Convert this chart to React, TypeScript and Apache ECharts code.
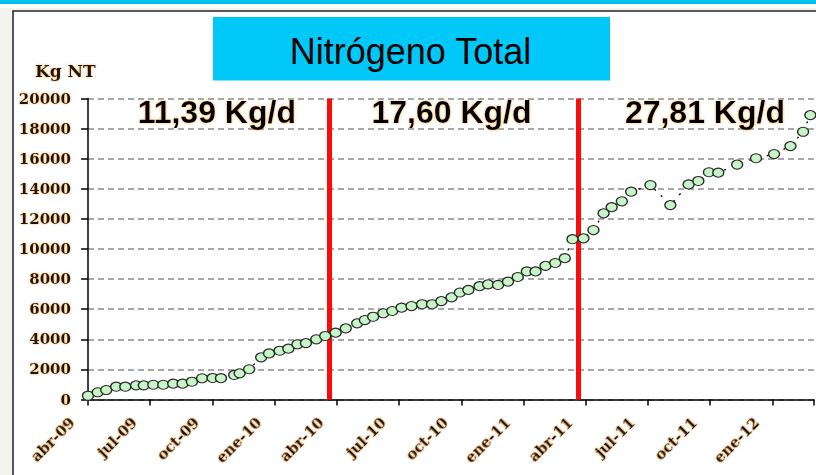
import React, { useEffect, useRef } from "react";
import * as echarts from "echarts";

// Month index measured from abr-09 (0 = April 2009)
const monthIndex: number[] = [
  0, 0.47, 0.88, 1.36, 1.8, 2.32, 2.69, 3.15, 3.63, 4.11, 4.56, 5.01, 5.5, 6.01, 6.41,
  7.05, 7.31, 7.77, 8.35, 8.73, 9.24, 9.66, 10.1, 10.51, 11.01, 11.44, 11.94, 12.43,
  12.98, 13.35, 13.75, 14.24, 14.67, 15.12, 15.6, 16.11, 16.59, 17.04, 17.53, 17.93,
  18.34, 18.88, 19.29, 19.77, 20.25, 20.72, 21.16, 21.58, 22.06, 22.53, 22.99, 23.36,
  23.89, 24.37, 24.86, 25.25, 25.74, 26.19, 27.12, 28.08, 28.96, 29.43, 29.94, 30.39,
  31.3, 32.21, 33.08, 33.87, 34.48, 34.83,
];

// Accumulated nitrogen (Kg NT)
const kgNT: number[] = [
  250, 480, 630, 850, 850, 940, 940, 980, 980, 1050, 1050, 1180, 1410, 1430, 1420,
  1630, 1740, 2010, 2800, 3060, 3240, 3380, 3670, 3750, 4000, 4220, 4440, 4730,
  5060, 5280, 5500, 5730, 5880, 6100, 6210, 6330, 6330, 6540, 6790, 7110,
  7280, 7530, 7650, 7610, 7830, 8140, 8510, 8510, 8880, 9070, 9390, 10650,
  10710, 11260, 12370, 12780, 13170, 13810, 14250, 12920, 14290, 14520, 15100, 15070,
  15610, 16030, 16310, 16840, 17790, 18900,
];

const xTickLabels: string[] = [
  "abr-09", "jul-09", "oct-09", "ene-10", "abr-10", "jul-10",
  "oct-10", "ene-11", "abr-11", "jul-11", "oct-11", "ene-12",
];

const changeMonths: number[] = [11.65, 23.63];
const rateLabels: string[] = ["11,39 Kg/d", "17,60 Kg/d", "27,81 Kg/d"];
const rateLabelMonths: number[] = [6.2, 17.5, 29.7];

const titleText = "Nitrógeno Total";
const yAxisTitle = "Kg NT";

const serifBold = "'DejaVu Serif', 'Liberation Serif', serif";
const sans = "'Liberation Sans', Arial, sans-serif";

export default function App() {
  const ref = useRef<HTMLDivElement>(null);

  useEffect(() => {
    if (!ref.current) return;
    const chart = echarts.init(ref.current, undefined, { renderer: "svg" });

    const gridLeft = 88;
    const gridRight = 1;
    const xMax = 35;
    const pxPerMonth = (816 - gridLeft - gridRight) / xMax;

    const rateTexts = rateLabels.map((t, i) => ({
      type: "text",
      z: 100,
      x: gridLeft + rateLabelMonths[i] * pxPerMonth,
      y: 112,
      style: {
        text: t,
        fill: "#000",
        font: `bold 32px ${sans}`,
        align: "center",
        verticalAlign: "middle",
        textShadowColor: "rgba(240,170,60,0.8)",
        textShadowBlur: 3,
      },
    }));

    chart.setOption({
      animation: false,
      backgroundColor: "transparent",
      grid: { left: gridLeft, right: gridRight, top: 98.5, bottom: 75.5 },
      graphic: [
        { type: "rect", z: -10, shape: { x: 0, y: 0, width: 816, height: 4 }, style: { fill: "#00c0f0" } },
        { type: "rect", z: -10, shape: { x: 0, y: 4, width: 816, height: 4 }, style: { fill: "#ffffff" } },
        {
          type: "rect",
          z: -5,
          shape: { x: 13, y: 11, width: 900, height: 500 },
          style: { fill: "#ffffff", stroke: "#222", lineWidth: 1.5 },
        },
        {
          type: "rect",
          z: 50,
          shape: { x: 213, y: 17, width: 397, height: 63.5 },
          style: { fill: "#00c8f8" },
        },
        {
          type: "text",
          z: 100,
          x: 410.5,
          y: 51,
          style: {
            text: titleText,
            fill: "#000",
            font: `36px ${sans}`,
            align: "center",
            verticalAlign: "middle",
          },
        },
        {
          type: "text",
          z: 100,
          x: 35,
          y: 71,
          style: {
            text: yAxisTitle,
            fill: "#1a1208",
            font: `bold 17px ${serifBold}`,
            align: "left",
            verticalAlign: "middle",
            textShadowColor: "rgba(240,150,50,0.8)",
            textShadowBlur: 2,
          },
        },
        ...rateTexts,
      ],
      xAxis: {
        type: "value",
        min: 0,
        max: xMax,
        interval: 3,
        splitLine: { show: false },
        axisLine: { show: true, lineStyle: { color: "#000", width: 1.5 } },
        axisTick: { show: true, length: 6, lineStyle: { color: "#000", width: 1.5 } },
        axisLabel: {
          rotate: 45,
          margin: 5,
          padding: [0, 22, 0, 0],
          color: "#1a1208",
          fontFamily: serifBold,
          fontWeight: "bold",
          fontSize: 15,
          textShadowColor: "rgba(240,150,50,0.8)",
          textShadowBlur: 2,
          formatter: (v: number) => {
            const k = Math.round(v / 3);
            return Math.abs(v - k * 3) < 1e-6 && xTickLabels[k] ? xTickLabels[k] : "";
          },
        },
      },
      yAxis: {
        type: "value",
        min: 0,
        max: 20000,
        interval: 2000,
        axisLine: { show: true, lineStyle: { color: "#000", width: 1.5 } },
        axisTick: { show: true, length: 7, lineStyle: { color: "#000", width: 1.5 } },
        axisLabel: {
          margin: 17,
          color: "#1a1208",
          fontFamily: serifBold,
          fontWeight: "bold",
          fontSize: 15,
          textShadowColor: "rgba(240,150,50,0.8)",
          textShadowBlur: 2,
          formatter: (v: number) => String(v),
        },
        splitLine: {
          show: true,
          lineStyle: { color: "#8c8c8c", width: 1.5, type: [6, 4] },
        },
      },
      series: [
        {
          type: "line",
          data: monthIndex.map((m, i) => [m, kgNT[i]]),
          symbol: "circle",
          symbolSize: [11, 9],
          lineStyle: { color: "#000", width: 1.3, type: [2, 7] },
          itemStyle: { color: "#c8f5c8", borderColor: "#2a2a2a", borderWidth: 1.2 },
          z: 5,
          markLine: {
            silent: true,
            symbol: "none",
            label: { show: false },
            lineStyle: { color: "#ff0a0a", width: 5, type: "solid" },
            data: changeMonths.map((m) => ({ xAxis: m })),
          },
        },
      ],
    });

    return () => chart.dispose();
  }, []);

  return (
    <div
      ref={ref}
      style={{
        position: "fixed",
        left: 0,
        top: 0,
        width: 816,
        height: 475,
        background: "#f3f4ec",
      }}
    />
  );
}
